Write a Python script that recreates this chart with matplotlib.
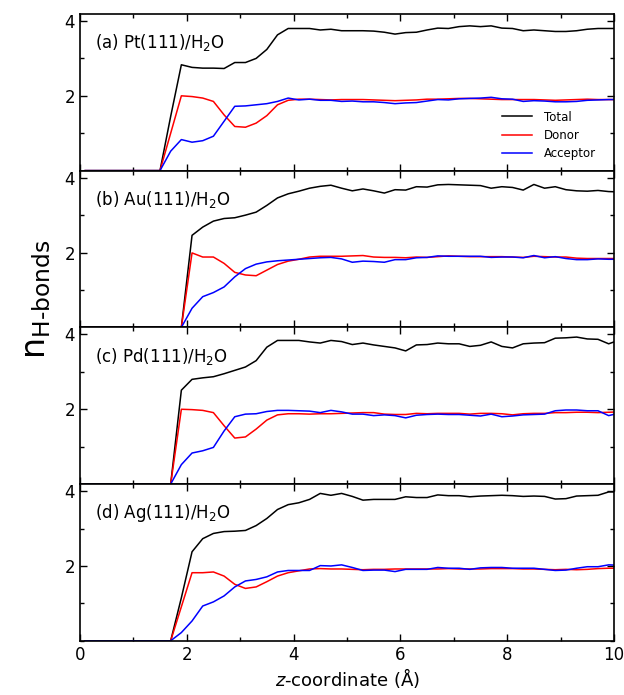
import numpy as np
import matplotlib
matplotlib.use("Agg")
import matplotlib.pyplot as plt
from matplotlib.ticker import MultipleLocator

# z grid (Angstrom), sampled every 0.2
z = np.round(np.arange(0.1, 10.2, 0.2), 1)

panel_labels = ["(a) Pt(111)/H$_2$O", "(b) Au(111)/H$_2$O",
                "(c) Pd(111)/H$_2$O", "(d) Ag(111)/H$_2$O"]

# Pt(111)
total_pt = [0, 0, 0, 0, 0, 0, 0, 0,
            1.45, 2.83, 2.76, 2.74, 2.74, 2.73, 2.89, 2.89, 3.00, 3.24, 3.63, 3.80,
            3.80, 3.80, 3.76, 3.78, 3.74, 3.74, 3.74, 3.73, 3.70, 3.65, 3.69, 3.70, 3.76,
            3.81, 3.80, 3.85, 3.87, 3.85, 3.87, 3.81, 3.80, 3.74, 3.76, 3.74, 3.72, 3.72,
            3.74, 3.78, 3.80, 3.80, 3.80]
donor_pt = [0, 0, 0, 0, 0, 0, 0, 0,
            1.00, 2.00, 1.98, 1.94, 1.85, 1.49, 1.18, 1.16, 1.27, 1.47, 1.76, 1.88,
            1.91, 1.91, 1.90, 1.89, 1.90, 1.90, 1.90, 1.89, 1.88, 1.87, 1.88, 1.89, 1.91,
            1.91, 1.92, 1.93, 1.93, 1.92, 1.91, 1.90, 1.90, 1.90, 1.90, 1.89, 1.88, 1.89,
            1.90, 1.91, 1.90, 1.90, 1.90]
acceptor_pt = [0, 0, 0, 0, 0, 0, 0, 0,
               0.52, 0.83, 0.76, 0.80, 0.92, 1.32, 1.72, 1.73, 1.76, 1.79, 1.85, 1.94,
               1.89, 1.91, 1.88, 1.88, 1.85, 1.86, 1.84, 1.84, 1.82, 1.79, 1.81, 1.82, 1.86,
               1.90, 1.89, 1.92, 1.93, 1.94, 1.96, 1.92, 1.91, 1.85, 1.87, 1.86, 1.84, 1.84,
               1.85, 1.88, 1.89, 1.90, 1.90]

# Au(111)
total_au = [0, 0, 0, 0, 0, 0, 0, 0, 0, 0,
            2.46, 2.68, 2.84, 2.91, 2.93, 3.00, 3.08, 3.26, 3.46, 3.57,
            3.64, 3.72, 3.77, 3.80, 3.72, 3.65, 3.70, 3.65, 3.59, 3.68, 3.67, 3.76, 3.75,
            3.81, 3.82, 3.81, 3.80, 3.79, 3.72, 3.76, 3.74, 3.67, 3.82, 3.72, 3.76, 3.68,
            3.65, 3.64, 3.66, 3.63, 3.62]
donor_au = [0, 0, 0, 0, 0, 0, 0, 0, 0, 0,
            1.99, 1.88, 1.88, 1.71, 1.47, 1.40, 1.38, 1.53, 1.68, 1.77,
            1.82, 1.88, 1.90, 1.90, 1.90, 1.91, 1.92, 1.88, 1.87, 1.87, 1.86, 1.88, 1.87,
            1.89, 1.91, 1.90, 1.89, 1.89, 1.89, 1.89, 1.88, 1.87, 1.90, 1.89, 1.88, 1.88,
            1.85, 1.84, 1.84, 1.84, 1.84]
acceptor_au = [0, 0, 0, 0, 0, 0, 0, 0, 0, 0,
               0.51, 0.82, 0.93, 1.08, 1.35, 1.57, 1.69, 1.75, 1.78, 1.80,
               1.82, 1.84, 1.86, 1.87, 1.83, 1.74, 1.77, 1.76, 1.74, 1.81, 1.81, 1.86, 1.87,
               1.91, 1.90, 1.90, 1.90, 1.90, 1.87, 1.88, 1.88, 1.86, 1.92, 1.86, 1.89, 1.84,
               1.81, 1.81, 1.83, 1.82, 1.82]

# Pd(111)
total_pd = [0, 0, 0, 0, 0, 0, 0, 0, 0,
            2.51, 2.80, 2.84, 2.87, 2.95, 3.04, 3.13, 3.30, 3.66, 3.84, 3.84,
            3.84, 3.80, 3.77, 3.84, 3.81, 3.73, 3.77, 3.72, 3.68, 3.64, 3.56, 3.72, 3.73,
            3.77, 3.75, 3.75, 3.68, 3.71, 3.80, 3.68, 3.64, 3.75, 3.77, 3.78, 3.90, 3.91,
            3.93, 3.88, 3.87, 3.75, 3.85]
donor_pd = [0, 0, 0, 0, 0, 0, 0, 0, 0,
            2.00, 1.99, 1.97, 1.91, 1.56, 1.23, 1.26, 1.47, 1.71, 1.85, 1.88,
            1.88, 1.87, 1.88, 1.88, 1.89, 1.90, 1.91, 1.91, 1.87, 1.86, 1.86, 1.89, 1.88,
            1.89, 1.89, 1.89, 1.87, 1.89, 1.89, 1.88, 1.85, 1.88, 1.89, 1.89, 1.91, 1.91,
            1.92, 1.92, 1.91, 1.92, 1.93]
acceptor_pd = [0, 0, 0, 0, 0, 0, 0, 0, 0,
               0.52, 0.83, 0.89, 0.98, 1.42, 1.80, 1.87, 1.88, 1.94, 1.97, 1.97,
               1.96, 1.95, 1.91, 1.97, 1.93, 1.87, 1.87, 1.83, 1.85, 1.83, 1.77, 1.84, 1.86,
               1.87, 1.86, 1.86, 1.84, 1.82, 1.87, 1.80, 1.82, 1.85, 1.86, 1.87, 1.96, 1.98,
               1.98, 1.96, 1.96, 1.83, 1.90]

# Ag(111)
total_ag = [0, 0, 0, 0, 0, 0, 0, 0, 0,
            1.15, 2.38, 2.73, 2.87, 2.92, 2.93, 2.95, 3.08, 3.27, 3.51, 3.64,
            3.69, 3.78, 3.94, 3.89, 3.94, 3.86, 3.76, 3.78, 3.78, 3.78, 3.85, 3.83, 3.83,
            3.90, 3.88, 3.88, 3.85, 3.87, 3.88, 3.89, 3.88, 3.86, 3.87, 3.86, 3.79, 3.80,
            3.87, 3.88, 3.89, 3.98, 3.98]
donor_ag = [0, 0, 0, 0, 0, 0, 0, 0, 0,
            0.91, 1.82, 1.82, 1.84, 1.73, 1.51, 1.40, 1.44, 1.58, 1.73, 1.82,
            1.87, 1.92, 1.93, 1.92, 1.92, 1.91, 1.90, 1.91, 1.91, 1.92, 1.92, 1.92, 1.92,
            1.92, 1.93, 1.92, 1.92, 1.92, 1.93, 1.93, 1.93, 1.92, 1.92, 1.91, 1.90, 1.91,
            1.90, 1.91, 1.93, 1.94, 1.94]
acceptor_ag = [0, 0, 0, 0, 0, 0, 0, 0, 0,
               0.22, 0.53, 0.93, 1.04, 1.20, 1.44, 1.60, 1.64, 1.71, 1.84, 1.88,
               1.88, 1.88, 2.01, 2.00, 2.03, 1.96, 1.88, 1.89, 1.89, 1.85, 1.91, 1.91, 1.91,
               1.96, 1.94, 1.94, 1.91, 1.95, 1.96, 1.96, 1.94, 1.94, 1.94, 1.91, 1.88, 1.89,
               1.94, 1.98, 1.98, 2.03, 2.02]

totals = [total_pt, total_au, total_pd, total_ag]
donors = [donor_pt, donor_au, donor_pd, donor_ag]
acceptors = [acceptor_pt, acceptor_au, acceptor_pd, acceptor_ag]

plt.rcParams['font.family'] = 'DejaVu Sans'

fig, axes = plt.subplots(4, 1, figsize=(6.24, 6.95), dpi=100, sharex=True)
fig.subplots_adjust(left=0.128, right=0.984, top=0.980, bottom=0.078, hspace=0)

for i, ax in enumerate(axes):
    ax.plot(z, totals[i], color='black', lw=1.1, label='Total')
    ax.plot(z, donors[i], color='red', lw=1.1, label='Donor')
    ax.plot(z, acceptors[i], color='blue', lw=1.1, label='Acceptor')
    ax.set_xlim(0, 10)
    ax.set_ylim(0, 4.19)
    ax.set_yticks([2, 4])
    ax.yaxis.set_minor_locator(MultipleLocator(1))
    ax.xaxis.set_major_locator(MultipleLocator(2))
    ax.xaxis.set_minor_locator(MultipleLocator(1))
    ax.tick_params(which='both', direction='in', top=True, right=True, labelsize=12)
    ax.tick_params(which='major', length=5, width=1)
    ax.tick_params(which='minor', length=3, width=1)
    for s in ax.spines.values():
        s.set_linewidth(1.2)
    ax.text(0.028, 0.815, panel_labels[i], transform=ax.transAxes,
            fontsize=12, va='center', ha='left')

axes[0].legend(loc='center left', bbox_to_anchor=(0.77, 0.225), frameon=False,
               fontsize=8.5, handlelength=2.6, labelspacing=0.45, handletextpad=1.0)

axes[-1].set_xlabel('$z$-coordinate (Å)', fontsize=13, labelpad=2)
fig.text(0.058, 0.57, 'n$_{\\mathregular{H\u2010bonds}}$', rotation=90,
         fontsize=24, ha='center', va='center')

fig.savefig('out.png', dpi=100)
